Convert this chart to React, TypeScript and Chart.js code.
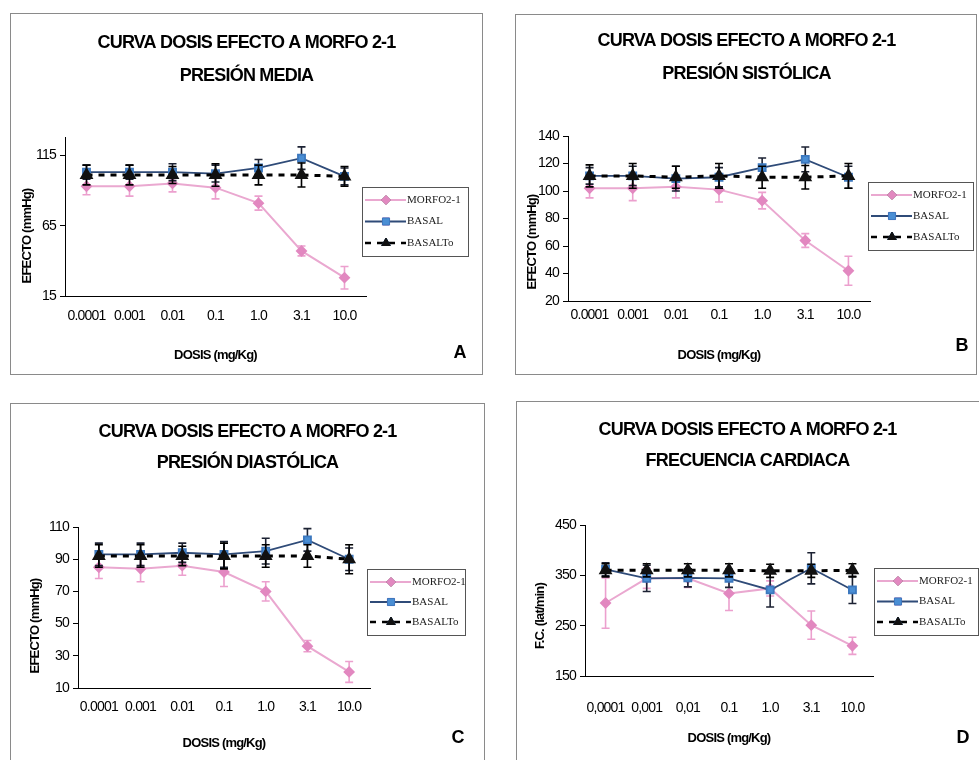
import React, { useEffect, useRef } from "react";
import { Chart, registerables } from "chart.js";
import { drawPoint } from "chart.js/helpers";

Chart.register(...registerables);

// ---------- data ----------
const doses = ["0.0001", "0.001", "0.01", "0.1", "1.0", "3.1", "10.0"];
const dosesD = ["0,0001", "0,001", "0,01", "0.1", "1.0", "3.1", "10.0"];
const seriesNames = ["MORFO2-1", "BASAL", "BASALTo"];

// A: Presión media
const morfoA = [93, 93, 95, 92, 81, 47, 28];
const morfoErrA = [6, 7, 6, 8, 5, 3.5, 8];
const basalA = [103, 103, 103, 102, 106, 113, 100];
const basalErrA = [5, 5, 6, 6, 6, 8, 6];
const basaltoA = [101, 101, 101, 101, 101, 101, 100];
const basaltoErrA = [7, 7, 6, 8, 7, 8.5, 7];
const ticksA = [15, 65, 115];

// B: Presión sistólica
const morfoB = [102, 102, 103, 101, 93, 64, 42];
const morfoErrB = [7, 9, 8, 9, 6, 5, 10.5];
const basalB = [111, 111, 109, 110, 117, 123, 110];
const basalErrB = [6, 7, 9, 7, 7, 9, 8];
const basaltoB = [111, 111, 110, 111, 110, 110, 111];
const basaltoErrB = [8, 9, 8, 9, 8, 8.5, 9];
const ticksB = [20, 40, 60, 80, 100, 120, 140];

// C: Presión diastólica
const morfoC = [85, 84, 86, 82, 70, 36, 20];
const morfoErrC = [7, 8, 6, 9, 6, 3.5, 6.5];
const basalC = [93, 93, 94, 93, 95, 102, 90];
const basalErrC = [7, 7, 6, 8, 8, 7, 7];
const basaltoC = [92, 92, 92, 92, 92, 92, 90];
const basaltoErrC = [7, 7, 6, 8, 7, 7, 9];
const ticksC = [10, 30, 50, 70, 90, 110];

// D: Frecuencia cardiaca
const morfoD = [295, 344, 344, 314, 324, 251, 210];
const morfoErrD = [50, 20, 18, 34, 15, 28, 17];
const basalD = [362, 344, 345, 344, 321, 364, 321];
const basalErrD = [13, 26, 18, 18, 34, 31, 27];
const basaltoD = [360, 360, 360, 360, 359, 359, 360];
const basaltoErrD = [13, 13, 13, 13, 13, 13, 13];
const ticksD = [150, 250, 350, 450];

// ---------- styles ----------
const SANS = "'Liberation Sans', Arial, sans-serif";
const SERIF = "'Liberation Serif', 'Times New Roman', serif";
const PINK_LINE = "rgb(234,168,208)";
const PINK_PT = "rgb(226,136,192)";
const BLUE_PT = "rgb(74,142,212)";
const BLUE_LINE = "#2f4b78";
const TIGHT = "-0.8px";

// ---------- plugins ----------
const tighten = {
  id: "tighten",
  beforeUpdate(chart: any) {
    chart.ctx.letterSpacing = TIGHT;
  },
  beforeLayout(chart: any) {
    chart.ctx.letterSpacing = TIGHT;
  },
  beforeDraw(chart: any) {
    chart.ctx.letterSpacing = TIGHT;
  },
};

const errorBars = {
  id: "errorBars",
  beforeDatasetDraw(chart: any, args: any) {
    const ds: any = chart.data.datasets[args.index];
    if (!ds.errors) return;
    const ys = chart.scales.y;
    const ctx = chart.ctx;
    ctx.save();
    ctx.strokeStyle = ds.errorColor;
    ctx.lineWidth = 1.6;
    args.meta.data.forEach((pt: any, i: number) => {
      const v = ds.data[i];
      const e = ds.errors[i];
      const y1 = ys.getPixelForValue(v + e);
      const y2 = ys.getPixelForValue(v - e);
      const x = pt.x;
      ctx.beginPath();
      ctx.moveTo(x, y1);
      ctx.lineTo(x, y2);
      ctx.moveTo(x - 4, y1);
      ctx.lineTo(x + 4, y1);
      ctx.moveTo(x - 4, y2);
      ctx.lineTo(x + 4, y2);
      ctx.stroke();
    });
    ctx.restore();
  },
};

const yTitle = {
  id: "yTitle",
  afterDraw(chart: any, _args: any, opts: any) {
    const ctx = chart.ctx;
    ctx.save();
    ctx.translate(opts.x, opts.y);
    ctx.rotate(-Math.PI / 2);
    ctx.fillStyle = "#000";
    ctx.font = `bold 13px ${SANS}`;
    ctx.letterSpacing = TIGHT;
    ctx.textAlign = "center";
    ctx.textBaseline = "middle";
    ctx.fillText(opts.text, 0, 0);
    ctx.restore();
  },
};

const boxLegend = {
  id: "boxLegend",
  afterDraw(chart: any, _args: any, opts: any) {
    const { x, y, w, h } = opts;
    const ctx = chart.ctx;
    ctx.save();
    ctx.letterSpacing = "0px";
    ctx.fillStyle = "#fff";
    ctx.fillRect(x, y, w, h);
    ctx.strokeStyle = "#555";
    ctx.lineWidth = 1;
    ctx.strokeRect(x + 0.5, y + 0.5, w, h);
    const rowGap = (h - 26) / 2;
    chart.data.datasets.forEach((ds: any, i: number) => {
      const ry = y + 13 + i * rowGap;
      ctx.save();
      ctx.strokeStyle = ds.borderColor;
      ctx.lineWidth = Math.min(ds.borderWidth, 2.5);
      ctx.setLineDash(ds.borderDash || []);
      ctx.beginPath();
      ctx.moveTo(x + 3, ry);
      ctx.lineTo(x + 44, ry);
      ctx.stroke();
      ctx.restore();
      drawPoint(
        ctx,
        {
          pointStyle: ds.pointStyle,
          radius: ds.pointRadius,
          borderWidth: 1,
          rotation: 0,
        } as any,
        x + 24,
        ry
      );
      ctx.fillStyle = ds.pointBackgroundColor;
      ctx.strokeStyle = ds.pointBorderColor;
      ctx.fill();
      ctx.stroke();
      ctx.fillStyle = "#222";
      ctx.font = `11px ${SERIF}`;
      ctx.textBaseline = "middle";
      ctx.textAlign = "left";
      ctx.fillText(ds.label, x + 45, ry);
    });
    ctx.restore();
  },
};

// ---------- panels ----------
type Rect = { x: number; y: number; w: number; h: number };
type Panel = {
  box: Rect;
  frame: Rect;
  area: { l: number; t: number; r: number; b: number };
  line1: number;
  lineGap: number;
  title2: string;
  yTitle: string;
  yTitlePos: { x: number; y: number };
  xTitleFromBottom: number;
  xTickCenter: number;
  yMin: number;
  yMax: number;
  yTicks: number[];
  labels: string[];
  morfo: number[];
  morfoErr: number[];
  basal: number[];
  basalErr: number[];
  basalto: number[];
  basaltoErr: number[];
  legend: Rect;
  letter: string;
  letterX: number;
  letterY: number;
};

const panels: Panel[] = [
  {
    box: { x: 10, y: 13, w: 473, h: 362 },
    frame: { x: 10, y: 13, w: 473, h: 362 },
    area: { l: 65, t: 137, r: 366, b: 296 },
    line1: 30, lineGap: 33,
    title2: "PRESIÓN MEDIA",
    yTitle: "EFECTO (mmHg)", yTitlePos: { x: 17, y: 223 },
    xTitleFromBottom: 20, xTickCenter: 316,
    yMin: 15, yMax: 128, yTicks: ticksA, labels: doses,
    morfo: morfoA, morfoErr: morfoErrA, basal: basalA, basalErr: basalErrA,
    basalto: basaltoA, basaltoErr: basaltoErrA,
    legend: { x: 352, y: 174, w: 106, h: 69 },
    letter: "A", letterX: 460, letterY: 352,
  },
  {
    box: { x: 515, y: 14, w: 463, h: 361 },
    frame: { x: 515, y: 14, w: 462, h: 361 },
    area: { l: 568, t: 136, r: 870, b: 301 },
    line1: 27, lineGap: 33,
    title2: "PRESIÓN SISTÓLICA",
    yTitle: "EFECTO (mmHg)", yTitlePos: { x: 17, y: 228 },
    xTitleFromBottom: 20, xTickCenter: 315,
    yMin: 20, yMax: 140, yTicks: ticksB, labels: doses,
    morfo: morfoB, morfoErr: morfoErrB, basal: basalB, basalErr: basalErrB,
    basalto: basaltoB, basaltoErr: basaltoErrB,
    legend: { x: 353, y: 168, w: 105, h: 68 },
    letter: "B", letterX: 962, letterY: 345,
  },
  {
    box: { x: 10, y: 403, w: 475, h: 367 },
    frame: { x: 10, y: 403, w: 475, h: 400 },
    area: { l: 78, t: 527, r: 370, b: 688 },
    line1: 29, lineGap: 31,
    title2: "PRESIÓN DIASTÓLICA",
    yTitle: "EFECTO (mmHg)", yTitlePos: { x: 25, y: 223 },
    xTitleFromBottom: 27, xTickCenter: 707,
    yMin: 10, yMax: 110, yTicks: ticksC, labels: doses,
    morfo: morfoC, morfoErr: morfoErrC, basal: basalC, basalErr: basalErrC,
    basalto: basaltoC, basaltoErr: basaltoErrC,
    legend: { x: 357, y: 166, w: 98, h: 66 },
    letter: "C", letterX: 458, letterY: 737,
  },
  {
    box: { x: 516, y: 401, w: 463, h: 369 },
    frame: { x: 516, y: 401, w: 470, h: 400 },
    area: { l: 585, t: 525, r: 873, b: 676 },
    line1: 29, lineGap: 31,
    title2: "FRECUENCIA CARDIACA",
    yTitle: "F.C. (lat/min)", yTitlePos: { x: 24, y: 215 },
    xTitleFromBottom: 32, xTickCenter: 708,
    yMin: 150, yMax: 450, yTicks: ticksD, labels: dosesD,
    morfo: morfoD, morfoErr: morfoErrD, basal: basalD, basalErr: basalErrD,
    basalto: basaltoD, basaltoErr: basaltoErrD,
    legend: { x: 358, y: 167, w: 104, h: 67 },
    letter: "D", letterX: 963, letterY: 737,
  },
];

const TITLE_SIZE = 18;
const TICK_SIZE = 14;
const AXT_SIZE = 13;

function PanelChart({ p }: { p: Panel }) {
  const ref = useRef<HTMLCanvasElement | null>(null);
  useEffect(() => {
    if (!ref.current) return;
    const axTitleLH = AXT_SIZE * 1.2;
    const tickLH = TICK_SIZE * 1.2;
    const titleTop = p.line1 - p.lineGap / 2;
    const titleTotal = p.area.t - p.box.y;
    const titleBottom = titleTotal - titleTop - 2 * p.lineGap;
    const rightSpace = p.box.x + p.box.w - p.area.r;
    const chart = new Chart(ref.current, {
      type: "line",
      data: {
        labels: p.labels,
        datasets: [
          {
            label: seriesNames[0],
            data: p.morfo,
            errors: p.morfoErr,
            errorColor: "rgb(236,160,206)",
            borderColor: PINK_LINE,
            borderWidth: 2,
            pointStyle: "rectRot",
            pointRadius: 4.5,
            pointBackgroundColor: PINK_PT,
            pointBorderColor: PINK_PT,
            order: 3,
          } as any,
          {
            label: seriesNames[1],
            data: p.basal,
            errors: p.basalErr,
            errorColor: "#1c2233",
            borderColor: BLUE_LINE,
            borderWidth: 1.8,
            pointStyle: "rect",
            pointRadius: 5,
            pointBackgroundColor: BLUE_PT,
            pointBorderColor: "rgb(60,120,190)",
            order: 2,
          } as any,
          {
            label: seriesNames[2],
            data: p.basalto,
            errors: p.basaltoErr,
            errorColor: "#000",
            borderColor: "#000",
            borderWidth: 3,
            borderDash: [6, 6],
            pointStyle: "triangle",
            pointRadius: 5,
            pointBackgroundColor: "#111",
            pointBorderColor: "#111",
            order: 1,
          } as any,
        ],
      },
      options: {
        animation: false,
        responsive: false,
        maintainAspectRatio: false,
        layout: { padding: 0 },
        elements: { line: { tension: 0 } },
        plugins: {
          legend: { display: false },
          tooltip: { enabled: false },
          title: {
            display: true,
            text: ["CURVA DOSIS EFECTO A MORFO 2-1", p.title2],
            color: "#000",
            font: { family: SANS, size: TITLE_SIZE, weight: "bold", lineHeight: `${p.lineGap}px` },
            padding: { top: titleTop, bottom: titleBottom },
          },
          boxLegend: p.legend,
          yTitle: { text: p.yTitle, x: p.yTitlePos.x, y: p.yTitlePos.y },
        } as any,
        scales: {
          x: {
            type: "category",
            offset: true,
            grid: { display: true, drawOnChartArea: false, drawTicks: false },
            border: { display: true, color: "#000", width: 1 },
            ticks: {
              autoSkip: false,
              maxRotation: 0,
              color: "#000",
              padding: p.xTickCenter - p.area.b - tickLH / 2,
              font: { family: SANS, size: TICK_SIZE },
            },
            title: {
              display: true,
              text: "DOSIS (mg/Kg)",
              color: "#000",
              font: { family: SANS, size: AXT_SIZE, weight: "bold" },
              padding: { top: 0, bottom: p.xTitleFromBottom - axTitleLH / 2 },
            },
            afterFit: (s: any) => {
              s.height = p.box.y + p.box.h - p.area.b;
            },
          },
          y: {
            min: p.yMin,
            max: p.yMax,
            grid: { drawOnChartArea: false, drawTicks: true, tickLength: 5, color: "#000" },
            border: { display: true, color: "#000", width: 1 },
            ticks: {
              color: "#000",
              padding: 4,
              font: { family: SANS, size: TICK_SIZE },
            },
            afterBuildTicks: (s: any) => {
              s.ticks = p.yTicks.map((v) => ({ value: v }));
            },
            afterFit: (s: any) => {
              s.width = p.area.l - p.box.x;
            },
          },
          legendSpace: {
            type: "linear",
            position: "right",
            display: true,
            grid: { display: false, drawOnChartArea: false },
            border: { display: false },
            ticks: { display: false },
            afterFit: (s: any) => {
              s.width = rightSpace;
            },
          },
        },
      } as any,
      plugins: [tighten, errorBars, boxLegend, yTitle],
    });
    return () => chart.destroy();
  }, [p]);

  return (
    <>
      <div
        style={{
          position: "absolute",
          left: p.frame.x,
          top: p.frame.y,
          width: p.frame.w,
          height: p.frame.h,
          border: "1px solid #8a8a8a",
          boxSizing: "border-box",
        }}
      />
      <canvas
        ref={ref}
        width={p.box.w}
        height={p.box.h}
        style={{ position: "absolute", left: p.box.x, top: p.box.y, width: p.box.w, height: p.box.h }}
      />
      <div
        style={{
          position: "absolute",
          left: p.letterX - 15,
          top: p.letterY - 12,
          width: 30,
          height: 24,
          lineHeight: "24px",
          textAlign: "center",
          fontFamily: SANS,
          fontWeight: "bold",
          fontSize: 18,
          color: "#000",
        }}
      >
        {p.letter}
      </div>
    </>
  );
}

export default function App() {
  return (
    <div
      style={{
        position: "absolute",
        left: 0,
        top: 0,
        width: 979,
        height: 760,
        overflow: "hidden",
        background: "#fff",
      }}
    >
      {panels.map((p, i) => (
        <PanelChart key={i} p={p} />
      ))}
    </div>
  );
}
